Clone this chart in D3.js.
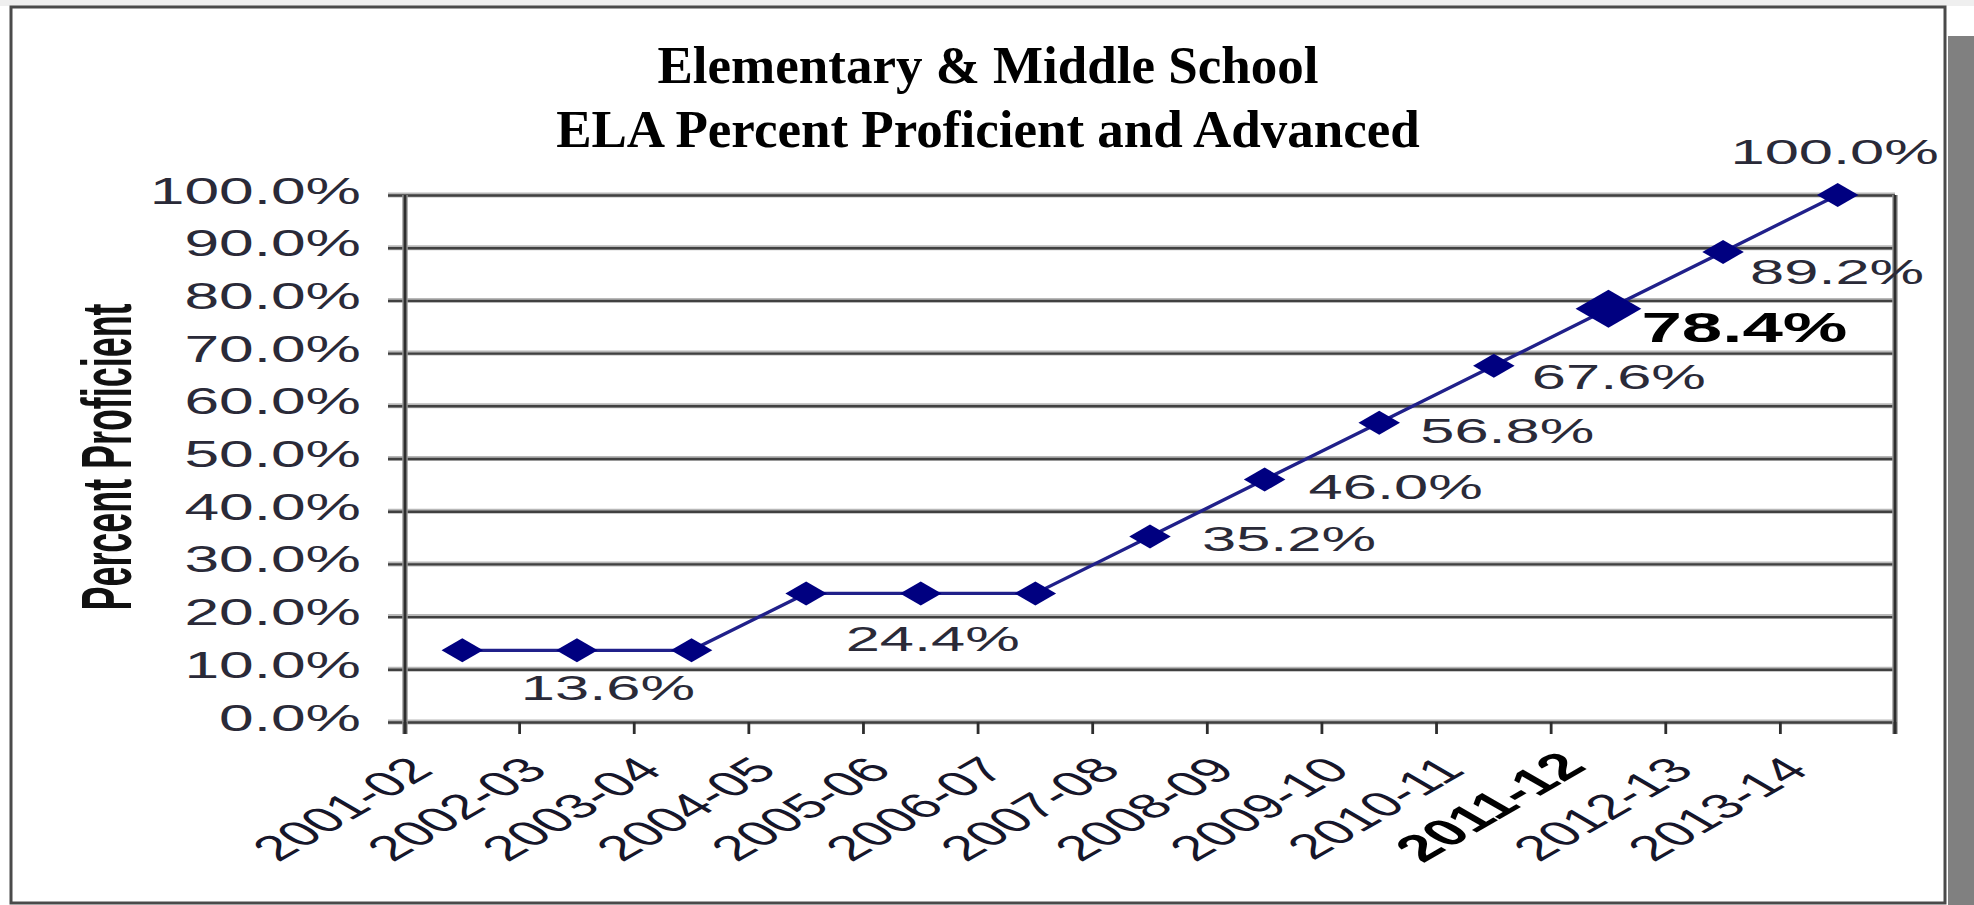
<!DOCTYPE html>
<html><head><meta charset="utf-8">
<script src="https://cdn.jsdelivr.net/npm/d3@7/dist/d3.min.js"></script>
<style>html,body{margin:0;padding:0;background:#fff;overflow:hidden}</style>
</head><body>
<svg id="chart" width="1974" height="905"></svg>
<script>
// ---------- data ----------
const titleLines = ["Elementary & Middle School", "ELA Percent Proficient and Advanced"];
const yAxisTitle = "Percent Proficient";
const categories = ["2001-02","2002-03","2003-04","2004-05","2005-06","2006-07","2007-08","2008-09","2009-10","2010-11","2011-12","2012-13","2013-14"];
const proficiency = [0.136,0.136,0.136,0.244,0.244,0.244,0.352,0.460,0.568,0.676,0.784,0.892,1.000];
const pointLabels = [null,"13.6%",null,null,"24.4%",null,"35.2%","46.0%","56.8%","67.6%","78.4%","89.2%","100.0%"];
const yTickValues = [0,0.1,0.2,0.3,0.4,0.5,0.6,0.7,0.8,0.9,1.0];
const highlightCategory = "2011-12";

// ---------- layout ----------
const W = 1974, H = 905;
const SX = 1.73;               // horizontal stretch of the chart artwork
const M = {left:405, right:1895, top:195, bottom:722};
const svg = d3.select("#chart");
const x = d3.scaleBand().domain(categories).range([M.left, M.right]);
const y = d3.scaleLinear().domain([0,1]).range([M.bottom, M.top]);
const cx = c => x(c) + x.bandwidth()/2;
const SANS = "'Liberation Sans', Arial, sans-serif";
const labelColor = "#2a2a38";

// frame
svg.append("rect").attr("x",0).attr("y",0).attr("width",W).attr("height",6).attr("fill","#efefef");
svg.append("rect").attr("x",1948).attr("y",36).attr("width",W-1948).attr("height",H-36).attr("fill","#808080");
svg.append("rect").attr("x",11).attr("y",7).attr("width",1934).attr("height",896)
  .attr("fill","#fff").attr("stroke","#4a4a4a").attr("stroke-width",3);

// title
svg.append("g").selectAll("text").data(titleLines).join("text")
  .attr("x", 988).attr("y", (d,i) => 83 + i*64)
  .attr("text-anchor","middle")
  .attr("font-family","'Liberation Serif','Times New Roman',serif")
  .attr("font-weight","bold").attr("font-size",53).attr("fill","#000")
  .text(d => d);

// gridline halos
const grid = svg.append("g");
grid.selectAll("line.halo").data(yTickValues).join("line").attr("class","halo")
  .attr("x1", 388).attr("x2", M.right).attr("y1", d => y(d)).attr("y2", d => y(d))
  .attr("stroke","#b8b8b8").attr("stroke-width",5);

// y axis with gridlines (axisLeft placed at right edge so ticks span the plot)
const tickLen = M.right - 388;
const yAxis = svg.append("g").attr("transform",`translate(${M.right},0)`)
  .call(d3.axisLeft(y).tickValues(yTickValues).tickFormat(d3.format(".1%"))
        .tickSize(tickLen).tickPadding(0));
yAxis.select(".domain").remove();
yAxis.selectAll(".tick line").attr("stroke","#404040").attr("stroke-width",2.4);
yAxis.selectAll(".tick text")
  .attr("x",null).attr("dy",null)
  .attr("transform",`translate(${361 - M.right},8) scale(${SX},1)`)
  .attr("text-anchor","end")
  .attr("font-family",SANS).attr("font-size",36).attr("fill",labelColor);

// axis lines: left, right, bottom
const axes = svg.append("g");
[[M.left,M.top,M.left,734],[M.right,M.top,M.right,734]].forEach(([x1,y1,x2,y2])=>{
  axes.append("line").attr("x1",x1).attr("y1",y1).attr("x2",x2).attr("y2",y2)
    .attr("stroke","#9a9a9a").attr("stroke-width",5.5);
  axes.append("line").attr("x1",x1).attr("y1",y1).attr("x2",x2).attr("y2",y2)
    .attr("stroke","#2e2e2e").attr("stroke-width",2.8);
});
// x tick marks at category boundaries
const boundaries = categories.map(c => x(c)).concat([M.right]);
axes.selectAll("line.xt").data(boundaries).join("line").attr("class","xt")
  .attr("x1",d=>d).attr("x2",d=>d).attr("y1",M.bottom).attr("y2",734)
  .attr("stroke","#2e2e2e").attr("stroke-width",2.8);

// x labels
svg.append("g").selectAll("text").data(categories).join("text")
  .attr("transform", c => c === highlightCategory
      ? `translate(${cx(c)-20},768) scale(${SX},1) rotate(-45)`
      : `translate(${cx(c)-27},772) scale(${SX},1) rotate(-45)`)
  .attr("text-anchor","end")
  .attr("font-family",SANS)
  .attr("font-size", c => c === highlightCategory ? 37.5 : 35)
  .attr("font-weight", c => c === highlightCategory ? "bold" : "normal")
  .attr("fill", c => c === highlightCategory ? "#000" : "#16162a")
  .text(c => c);

// y axis title
svg.append("text")
  .attr("transform",`translate(131,457) scale(${SX},1) rotate(-90)`)
  .attr("text-anchor","middle")
  .attr("font-family",SANS).attr("font-weight","bold").attr("font-size",41)
  .attr("textLength",307).attr("lengthAdjust","spacingAndGlyphs")
  .attr("fill","#111").text(yAxisTitle);

// series line
const pts = categories.map((c,i) => ({c, v: proficiency[i], label: pointLabels[i], i}));
svg.append("path").datum(pts)
  .attr("d", d3.line().x(d => cx(d.c)).y(d => y(d.v)))
  .attr("fill","none").attr("stroke","#20208a").attr("stroke-width",3.4);

// markers
const diamond = r => `M0,${-r}L${r},0L0,${r}L${-r},0Z`;
svg.append("g").selectAll("path").data(pts).join("path")
  .attr("transform", d => `translate(${cx(d.c)},${y(d.v)}) scale(${SX},1)`)
  .attr("d", d => diamond(d.c === highlightCategory ? 19 : 12))
  .attr("fill","#000080");

// data labels (offsets relative to each point, in px)
const labelPlace = {
  1:{dx:31,dy:50,anchor:"middle"}, 4:{dx:12,dy:58,anchor:"middle"},
  6:{dx:52,dy:15,anchor:"start"}, 7:{dx:44,dy:19,anchor:"start"},
  8:{dx:41,dy:20,anchor:"start"}, 9:{dx:38,dy:23,anchor:"start"},
  10:{dx:33,dy:33,anchor:"start"}, 11:{dx:27,dy:32,anchor:"start"},
  12:{dx:-3,dy:-31,anchor:"middle"}
};
svg.append("g").selectAll("text").data(pts.filter(d => d.label)).join("text")
  .attr("transform", d => `translate(${cx(d.c)+labelPlace[d.i].dx},${y(d.v)+labelPlace[d.i].dy}) scale(${SX},1)`)
  .attr("text-anchor", d => labelPlace[d.i].anchor)
  .attr("font-family",SANS)
  .attr("font-size", d => d.c === highlightCategory ? 42 : 35.5)
  .attr("font-weight", d => d.c === highlightCategory ? "bold" : "normal")
  .attr("fill", d => d.c === highlightCategory ? "#000" : labelColor)
  .text(d => d.label);
</script>
</body></html>
